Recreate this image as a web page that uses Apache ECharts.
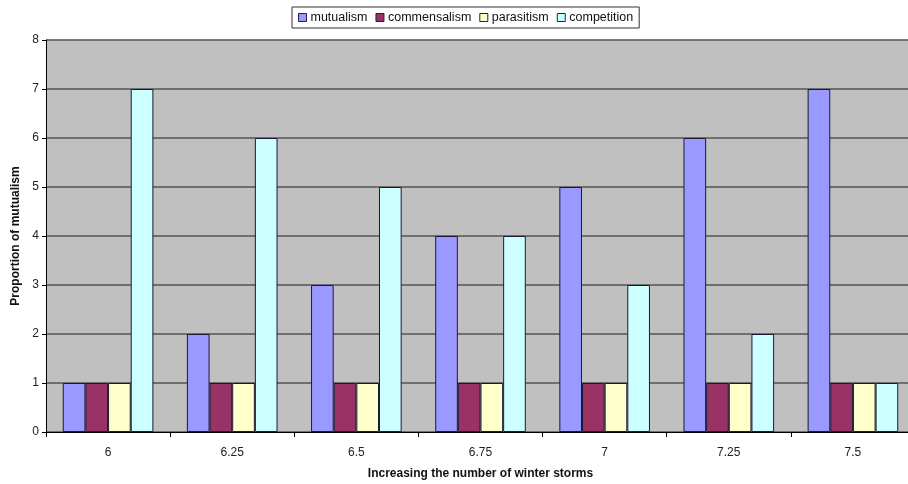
<!DOCTYPE html>
<html>
<head>
<meta charset="utf-8">
<script src="https://cdn.jsdelivr.net/npm/echarts@6/dist/echarts.min.js"></script>
<style>
  html, body { margin: 0; padding: 0; background: #ffffff; overflow: hidden; }
  #chart { width: 908px; height: 484px; }
</style>
</head>
<body>
<div id="chart"></div>
<script>
// Categories along the x axis
const storms = ['6', '6.25', '6.5', '6.75', '7', '7.25', '7.5'];

// Series values
const mutualism    = [1, 2, 3, 4, 5, 6, 7];
const commensalism = [1, 1, 1, 1, 1, 1, 1];
const parasitism   = [1, 1, 1, 1, 1, 1, 1];
const competition  = [7, 6, 5, 4, 3, 2, 1];

const seriesNames  = ['mutualism', 'commensalism', 'parasitism', 'competition'];
const seriesData   = [mutualism, commensalism, parasitism, competition];
const seriesColors = ['#9999ff', '#993366', '#ffffcc', '#ccffff'];

const font = 'Liberation Sans, Arial, sans-serif';

const chart = echarts.init(document.getElementById('chart'), null, { renderer: 'canvas' });

chart.setOption({
  animation: false,
  backgroundColor: '#ffffff',
  textStyle: { fontFamily: font },
  legend: {
    top: 7,
    left: 292,
    padding: [4, 6, 4, 6],
    borderColor: '#333333',
    borderWidth: 1,
    itemWidth: 8,
    itemHeight: 8,
    itemGap: 8,
    icon: 'rect',
    textStyle: { fontFamily: font, fontSize: 12.5, color: '#111111', padding: [0, 0, 0, -1] },
    data: seriesNames.map((n, i) => ({
      name: n,
      itemStyle: { color: seriesColors[i], borderColor: '#222244', borderWidth: 1 }
    }))
  },
  grid: {
    left: 46,
    right: -7,
    top: 40,
    bottom: 52,
    outerBoundsMode: 'none',
    show: true,
    backgroundColor: '#c0c0c0',
    borderWidth: 0
  },
  xAxis: {
    type: 'category',
    data: storms,
    name: 'Increasing the number of winter storms',
    nameLocation: 'middle',
    nameGap: 36,
    nameTextStyle: { fontFamily: font, fontWeight: 'bold', fontSize: 12, color: '#111111' },
    axisLine: { show: true, lineStyle: { color: '#000000', width: 1 } },
    axisTick: { show: true, length: 5, alignWithLabel: false, lineStyle: { color: '#000000' } },
    axisLabel: { fontFamily: font, fontSize: 12, color: '#222222', margin: 15 },
    splitLine: { show: false }
  },
  yAxis: {
    type: 'value',
    min: 0,
    max: 8,
    interval: 1,
    name: 'Proportion of mutualism',
    nameLocation: 'middle',
    nameGap: 24,
    nameTextStyle: { fontFamily: font, fontWeight: 'bold', fontSize: 12, color: '#111111' },
    axisLine: { show: true, lineStyle: { color: '#000000', width: 1 } },
    axisTick: { show: true, length: 4, lineStyle: { color: '#000000' } },
    axisLabel: { fontFamily: font, fontSize: 12, color: '#222222', margin: 7 },
    splitLine: { show: true, lineStyle: { color: '#555555', width: 1.5 } }
  },
  series: seriesNames.map((n, i) => ({
    name: n,
    type: 'bar',
    data: seriesData[i],
    barGap: '0%',
    barCategoryGap: '27%',
    itemStyle: { color: seriesColors[i], borderColor: '#1a1a33', borderWidth: 1 }
  }))
});
</script>
</body>
</html>
